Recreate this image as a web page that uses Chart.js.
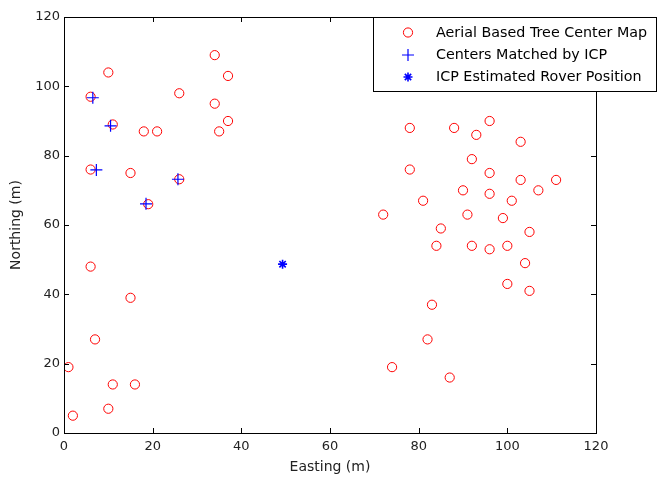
<!DOCTYPE html>
<html>
<head>
<meta charset="utf-8">
<script src="https://cdn.jsdelivr.net/npm/chart.js@4/dist/chart.umd.min.js"></script>
<style>
  html, body { margin: 0; padding: 0; background: #fff; }
  #grafica { display: block; }
</style>
</head>
<body>
<canvas id="grafica" width="657" height="477"></canvas>
<script>
// datos
const arbolX = [10, 34, 37, 26, 6, 34, 37, 35, 11, 18, 21, 6, 15, 26, 19, 6, 15, 7, 1, 11, 16, 10, 2,
    78, 88, 96, 93, 103, 92, 78, 96, 103, 111, 107, 90, 96, 101, 81, 72, 91, 99, 85, 105, 84, 92, 96, 100, 104, 100, 105,
    83, 82, 74, 87];
const arbolY = [104, 109, 103, 98, 97, 95, 90, 87, 89, 87, 87, 76, 75, 73.2, 66, 48, 39, 27, 19, 14, 14, 7, 5,
    88, 88, 90, 86, 84, 79, 76, 75, 73, 73, 70, 70, 69, 67, 67, 63, 63, 62, 59, 58, 54, 54, 53, 54, 49, 43, 41,
    37, 27, 19, 16];

const emparejX = [6.5, 10.5, 7.3, 25.7, 18.5];
const emparejY = [96.7, 88.6, 75.9, 73.2, 66.1];

const roverX = [49.3];
const roverY = [48.7];

const ticksEje = [0, 20, 40, 60, 80, 100, 120];
const etiquetas = ['Aerial Based Tree Center Map', 'Centers Matched by ICP', 'ICP Estimated Rover Position'];

function puntos(xs, ys) {
    return xs.map((x, i) => ({ x: x, y: ys[i] }));
}

const fuenteTick = { family: 'DejaVu Sans', size: 13 };
const fuenteTitulo = { family: 'DejaVu Sans', size: 14 };

// marco tipo matlab con ticks hacia adentro + leyenda
const marcoPlugin = {
    id: 'marco',
    afterDraw(chart) {
        const ctx = chart.ctx;
        const a = chart.chartArea;
        const sx = chart.scales.x, sy = chart.scales.y;
        ctx.save();
        ctx.strokeStyle = '#000';
        ctx.lineWidth = 1;
        ctx.strokeRect(Math.round(a.left) + 0.5, Math.round(a.top) + 0.5,
            Math.round(a.right - a.left), Math.round(a.bottom - a.top));
        ctx.beginPath();
        ticksEje.forEach(v => {
            const px = Math.round(sx.getPixelForValue(v)) + 0.5;
            ctx.moveTo(px, a.bottom); ctx.lineTo(px, a.bottom - 5);
            ctx.moveTo(px, a.top); ctx.lineTo(px, a.top + 5);
            const py = Math.round(sy.getPixelForValue(v)) + 0.5;
            ctx.moveTo(a.left, py); ctx.lineTo(a.left + 5, py);
            ctx.moveTo(a.right, py); ctx.lineTo(a.right - 5, py);
        });
        ctx.stroke();

        // leyenda
        const lx = 373, ly = 17, lw = 283, lh = 74;
        ctx.fillStyle = '#fff';
        ctx.fillRect(lx, ly, lw, lh);
        ctx.strokeRect(lx + 0.5, ly + 0.5, lw, lh);
        const filas = [32.5, 55, 77];
        ctx.font = '14.3px "DejaVu Sans"';
        ctx.textBaseline = 'middle';
        chart.data.datasets.forEach((ds, i) => {
            const opts = {
                pointStyle: ds.pointStyle,
                radius: ds.pointRadius,
                rotation: 0,
                borderWidth: ds.borderWidth
            };
            ctx.strokeStyle = ds.borderColor;
            ctx.fillStyle = ds.backgroundColor;
            ctx.lineWidth = ds.borderWidth;
            Chart.helpers.drawPoint(ctx, opts, 408, filas[i]);
            ctx.fillStyle = '#000';
            ctx.fillText(ds.label, 436, filas[i] + 0.5);
        });
        ctx.restore();
    }
};

const ctx = document.getElementById('grafica').getContext('2d');
const miGrafica = new Chart(ctx, {
    type: 'scatter',
    data: {
        datasets: [{
            label: etiquetas[0],
            data: puntos(arbolX, arbolY),
            pointStyle: 'circle',
            pointRadius: 4.6,
            borderWidth: 1,
            borderColor: '#ff0000',
            backgroundColor: 'rgba(0,0,0,0)',
            order: 3
        }, {
            label: etiquetas[1],
            data: puntos(emparejX, emparejY),
            pointStyle: 'cross',
            pointRadius: 6,
            borderWidth: 1.2,
            borderColor: '#0000ff',
            backgroundColor: '#0000ff',
            order: 2
        }, {
            label: etiquetas[2],
            data: puntos(roverX, roverY),
            pointStyle: 'star',
            pointRadius: 4.5,
            borderWidth: 1.6,
            borderColor: '#0000ff',
            backgroundColor: '#0000ff',
            order: 1
        }]
    },
    options: {
        responsive: false,
        animation: false,
        layout: { padding: { top: 17, right: 61, left: 0, bottom: 0 } },
        plugins: { legend: { display: false }, tooltip: { enabled: false } },
        scales: {
            x: {
                type: 'linear', min: 0, max: 120,
                afterFit: s => { s.height = 44; },
                afterBuildTicks: s => { s.ticks = ticksEje.map(v => ({ value: v })); },
                grid: { display: false, drawTicks: false },
                border: { display: false },
                ticks: { font: fuenteTick, color: '#222', padding: 6, maxRotation: 0 },
                title: { display: true, text: 'Easting (m)', font: fuenteTitulo, color: '#222', padding: { top: 0, bottom: 1 } }
            },
            y: {
                type: 'linear', min: 0, max: 120,
                afterFit: s => { s.width = 64; },
                afterBuildTicks: s => { s.ticks = ticksEje.map(v => ({ value: v })); },
                grid: { display: false, drawTicks: false },
                border: { display: false },
                ticks: { font: fuenteTick, color: '#222', padding: 4 },
                title: { display: true, text: 'Northing (m)', font: fuenteTitulo, color: '#222', padding: { top: 8, bottom: 0 } }
            }
        }
    },
    plugins: [marcoPlugin]
});
</script>
</body>
</html>
